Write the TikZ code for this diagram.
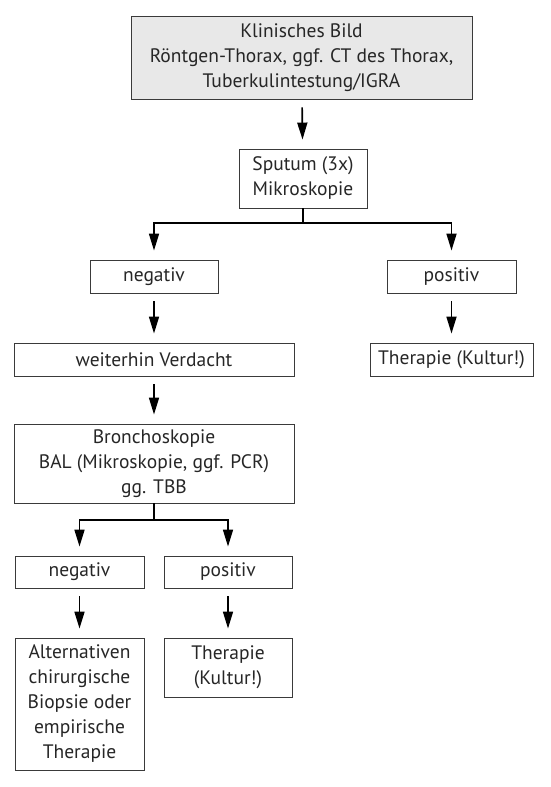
\documentclass[tikz,border=0pt]{standalone}
\usepackage{fontspec}
\setmainfont{PT Sans}
\usetikzlibrary{arrows.meta}
\definecolor{boxgrey}{HTML}{E8E8E8}
\definecolor{linegrey}{HTML}{3A3A3A}
\tikzset{
  stage/.style={draw=linegrey, line width=0.9pt, align=center, inner sep=0pt,
    font=\fontsize{19.5}{25}\selectfont, text=black!85},
  flow/.style={line width=1.7pt, -{Triangle[length=17pt,width=10pt]},
    shorten >=9pt, shorten <=8pt},
  fork/.style={line width=1.7pt, -{Triangle[length=17pt,width=10pt]},
    shorten >=9pt}
}
\begin{document}
\begin{tikzpicture}[x=1pt, y=-1pt]
  \useasboundingbox (0,0) rectangle (550,787);

  \node[stage, fill=boxgrey, minimum width=341pt, minimum height=83pt] (klinik) at (301.5, 57.5)
    {Klinisches Bild\\Röntgen-Thorax, ggf. CT des Thorax,\\Tuberkulintestung/IGRA};
  \node[stage, minimum width=128pt, minimum height=59pt] (sputum) at (303, 178.5)
    {Sputum (3x)\\Mikroskopie};
  \node[stage, minimum width=128pt, minimum height=33pt] (neg1) at (154, 276.5) {negativ};
  \node[stage, minimum width=129pt, minimum height=33pt] (pos1) at (451.5, 276.5) {positiv};
  \node[stage, minimum width=280pt, minimum height=33pt] (verdacht) at (154, 359.5) {weiterhin Verdacht};
  \node[stage, minimum width=163pt, minimum height=33pt] (ther1) at (451.5, 359.5) {Therapie (Kultur!)};
  \node[stage, minimum width=280pt, minimum height=79pt] (broncho) at (154, 463.5)
    {Bronchoskopie\\BAL (Mikroskopie, ggf. PCR)\\gg. TBB};
  \node[stage, minimum width=129pt, minimum height=32pt] (neg2) at (79.5, 572) {negativ};
  \node[stage, minimum width=128pt, minimum height=32pt] (pos2) at (228, 572) {positiv};
  \node[stage, minimum width=129pt, minimum height=132pt] (altern) at (79.5, 704)
    {Alternativen\\chirurgische\\Biopsie oder\\empirische\\Therapie};
  \node[stage, minimum width=128pt, minimum height=59pt] (ther2) at (228, 667.5)
    {Therapie\\(Kultur!)};

  \coordinate (split1) at (303, 223);
  \coordinate (split2) at (154, 520);

  \draw[flow] (klinik) -- (sputum);
  \draw[line width=1.7pt] (sputum) -- (split1);
  \draw[fork] (split1) -| (neg1);
  \draw[fork] (split1) -| (pos1);
  \draw[flow] (neg1) -- (verdacht);
  \draw[flow] (pos1) -- (ther1);
  \draw[flow] (verdacht) -- (broncho);
  \draw[line width=1.7pt] (broncho) -- (split2);
  \draw[fork] (split2) -| (neg2);
  \draw[fork] (split2) -| (pos2);
  \draw[flow] (neg2) -- (altern);
  \draw[flow] (pos2) -- (ther2);

\end{tikzpicture}
\end{document}
